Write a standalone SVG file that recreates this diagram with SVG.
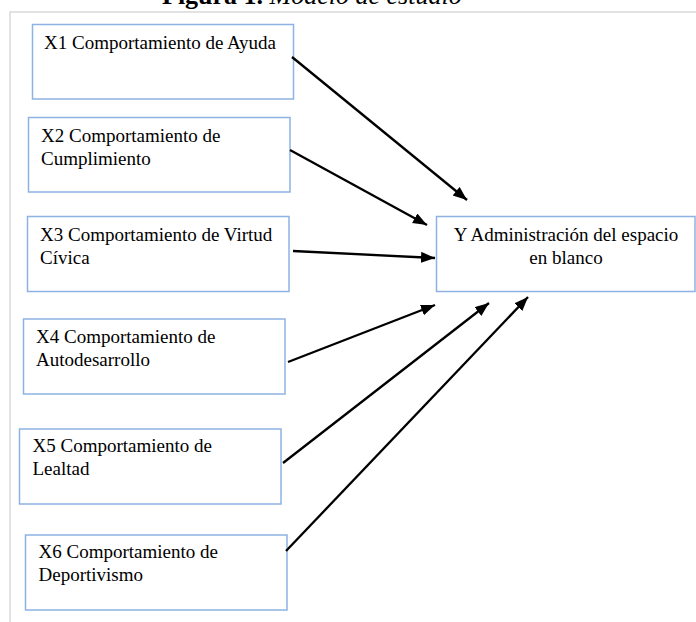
<svg xmlns="http://www.w3.org/2000/svg" width="696" height="622" viewBox="0 0 696 622">
<style>
.box{fill:#fff;stroke:#8db3e2;stroke-width:1.5}
.t{font-family:"Liberation Serif","Times New Roman",serif;font-size:19px;fill:#000}
.c{text-anchor:middle}
.edge{stroke:#000;stroke-width:2.3;fill:none;marker-end:url(#ah)}
.frame{stroke:#d9d9d9;stroke-width:1.5;fill:none}
</style>
<defs>
<marker id="ah" markerUnits="userSpaceOnUse" markerWidth="15" markerHeight="12" refX="14" refY="5.5" orient="auto">
<path d="M0,0 L14,5.5 L0,11 z" fill="#000"/>
</marker>
</defs>
<rect width="696" height="622" fill="#fff"/>
<text x="162" y="4" style="font-family:'Liberation Serif','Times New Roman',serif;font-size:26px"><tspan font-weight="bold">Figura 1.</tspan><tspan font-style="italic"> Modelo de estudio</tspan></text>
<path class="frame" d="M10,622 V12 H696"/>
<g id="X1"><rect class="box" x="32.5" y="24.5" width="261" height="74.5"/><text class="t" x="44" y="49">X1 Comportamiento de Ayuda</text></g>
<g id="X2"><rect class="box" x="28.5" y="117.5" width="261.5" height="74.5"/><text class="t" x="41" y="141.5">X2 Comportamiento de</text><text class="t" x="41" y="164.5">Cumplimiento</text></g>
<g id="X3"><rect class="box" x="27.5" y="216.5" width="261.5" height="75"/><text class="t" x="40" y="240.5">X3 Comportamiento de Virtud</text><text class="t" x="40" y="263.5">Cívica</text></g>
<g id="X4"><rect class="box" x="23.5" y="319" width="261.5" height="75"/><text class="t" x="36" y="343">X4 Comportamiento de</text><text class="t" x="36" y="366">Autodesarrollo</text></g>
<g id="X5"><rect class="box" x="19.5" y="429" width="261.5" height="75"/><text class="t" x="32.5" y="451.5">X5 Comportamiento de</text><text class="t" x="32.5" y="475">Lealtad</text></g>
<g id="X6"><rect class="box" x="25.5" y="535" width="261.5" height="75"/><text class="t" x="38.5" y="558">X6 Comportamiento de</text><text class="t" x="38.5" y="581">Deportivismo</text></g>
<g id="Y"><rect class="box" x="436.5" y="216.5" width="258.5" height="75"/><text class="t c" x="566" y="241">Y Administración del espacio</text><text class="t c" x="566" y="263.5">en blanco</text></g>
<g id="connectors">
<line class="edge" x1="292" y1="57" x2="467" y2="200"/>
<line class="edge" x1="290" y1="150" x2="427" y2="225"/>
<line class="edge" x1="293" y1="251" x2="435" y2="258"/>
<line class="edge" x1="288" y1="362" x2="435" y2="305"/>
<line class="edge" x1="283" y1="463" x2="489" y2="303"/>
<line class="edge" x1="286" y1="551" x2="528" y2="297"/>
</g>
</svg>
